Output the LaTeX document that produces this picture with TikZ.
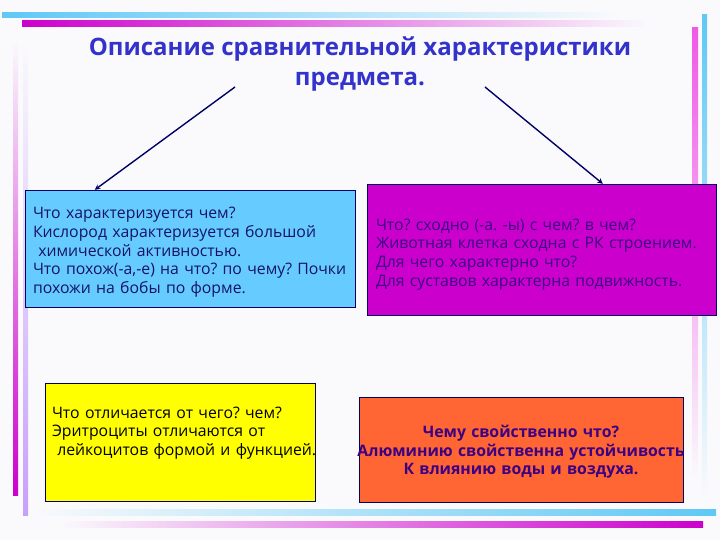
\documentclass[tikz,border=0pt]{standalone}
\usepackage{fontspec}
\setmainfont{Open Sans}
\usepackage{tikz}
\usetikzlibrary{arrows,shapes,positioning}
\usepackage{xcolor}
\frenchspacing
\definecolor{cmnavy}{RGB}{0,0,102}
\definecolor{cmtitle}{RGB}{51,51,204}
\definecolor{cmink}{RGB}{20,20,100}
\definecolor{cmplumink}{RGB}{60,0,130}
\definecolor{cmred}{RGB}{255,51,0}
\definecolor{cmteal}{RGB}{0,153,153}
\definecolor{cmsky}{RGB}{102,204,255}
\definecolor{cmplum}{RGB}{204,0,204}
\definecolor{cmlemon}{RGB}{255,255,0}
\definecolor{cmpeach}{RGB}{255,102,51}
\definecolor{cmcyanbar}{RGB}{95,200,245}
\definecolor{cmpinkbar}{RGB}{240,90,230}
\definecolor{cmlilac}{RGB}{200,160,250}
\definecolor{cmpaper}{RGB}{250,250,252}
\pgfdeclarelayer{background}
\pgfsetlayers{background,main}
\tikzstyle{arrow} = [line width=1.4pt,->,>=stealth]
\tikzstyle{card} = [rectangle, draw=cmnavy, thin, inner xsep=8pt, font=\fontsize{15.8}{18.7}\selectfont]

\begin{document}
\begin{tikzpicture}[x=1pt, y=-1pt]
% page and frame bars
\fill[cmpaper] (0,0) rectangle (720,540);
\useasboundingbox (0,0) rectangle (720,540);
\shade[left color=cmcyanbar, right color=cmpaper] (2,13) rectangle (620,18);
\shade[left color=cmplum, right color=cmpaper] (22,21) rectangle (650,27);
\shade[top color=cmpaper, bottom color=cmplum] (13,40) rectangle (18,495);
\shade[top color=cmpaper, bottom color=cmlilac] (23,40) rectangle (28,515);
\shade[top color=cmpinkbar, bottom color=cmpaper] (692,28) rectangle (698,480);
\shade[top color=cmcyanbar, bottom color=cmpaper] (702,15) rectangle (707,500);
\shade[left color=cmpaper, right color=cmcyanbar] (30,509) rectangle (716,515);
\shade[left color=cmpaper, right color=cmplum] (60,521) rectangle (703,527);

% title
\node (title) [font=\fontsize{24}{30}\selectfont\bfseries, text=cmtitle, align=center] at (360,64) {Описание сравнительной характеристики\\предмета.};

% four boxes
\node (trait) [card, fill=cmsky, text=cmink, text width=314pt, minimum height=117pt] at (190,248.5) {
\begin{tabular}{@{}l@{}}
Что характеризуется чем?\\
Кислород характеризуется большой\\
\ химической активностью.\\
Что похож(-а,-е) на что? по чему? Почки\\
похожи на бобы по форме.\\[-8pt]
\end{tabular}
};

\node (likeness) [card, fill=cmplum, text=cmplumink, text width=331pt, inner xsep=9pt, minimum height=131pt] at (541.5,249.5) {
\begin{tabular}{@{}l@{}}
Что? сходно (-а. -ы) с чем? в чем?\\
Животная клетка сходна с РК строением.\\
Для чего характерно что?\\
Для суставов характерна подвижность.\\[-10pt]
\end{tabular}
};

\node (difference) [card, fill=cmlemon, text=black, text width=256pt, inner xsep=7pt, minimum height=118pt] at (180,442) {
\begin{tabular}{@{}l@{}}
Что отличается от чего? чем?\\
Эритроциты отличаются от\\
\ лейкоцитов формой и функцией.\\[18pt]
\end{tabular}
};

\node (property) [card, fill=cmpeach, text=cmplumink, text width=310pt, inner xsep=7pt, minimum height=105pt, font=\fontsize{15.8}{18.7}\selectfont\bfseries] at (521,449.5) {
\makebox[310pt][c]{\begin{tabular}{@{}c@{}}
Чему свойственно что?\\
Алюминию свойственна устойчивость\\
К влиянию воды и воздуха.\\[-6pt]
\end{tabular}}
};

% arrows from the title
\coordinate (navyL) at (235,87);
\coordinate (navyR) at (485,87);
\coordinate (redtop) at (269,117);
\coordinate (tealtop) at (430,117);
\draw[arrow, cmnavy] (navyL) -- ([xshift=70pt]trait.north west);
\draw[arrow, cmnavy] (navyR) -- ([xshift=236pt]likeness.north west);
\begin{pgfonlayer}{background}
\draw[arrow, cmred] (redtop) -- ([xshift=100pt]difference.north west);
\draw[arrow, cmteal] (tealtop) -- ([xshift=168pt]property.north west);
\end{pgfonlayer}
\end{tikzpicture}
\end{document}
